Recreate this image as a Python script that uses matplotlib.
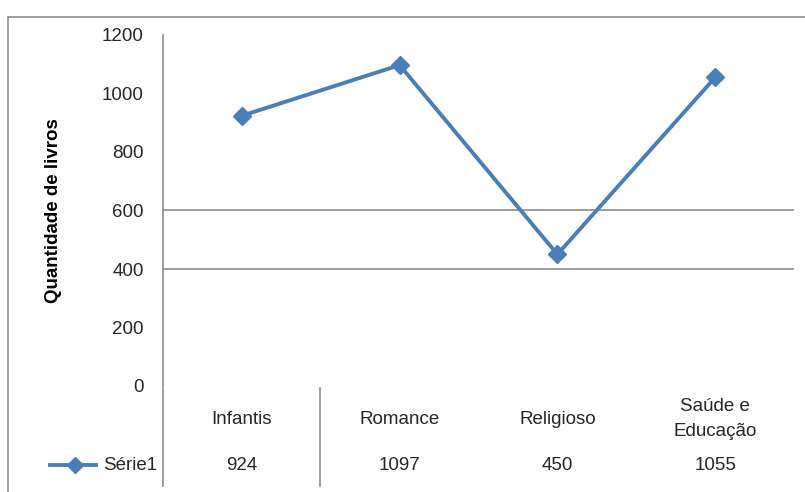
import matplotlib
matplotlib.use("Agg")
import matplotlib.pyplot as plt
import matplotlib.transforms as mtransforms
from matplotlib.patches import Rectangle
from matplotlib.lines import Line2D

categories = ["Infantis", "Romance", "Religioso", "Saúde e\nEducação"]
values = [924, 1097, 450, 1055]
value_labels = ["924", "1097", "450", "1055"]
series_name = "Série1"
yticks = [0, 200, 400, 600, 800, 1000, 1200]
gridlines = [400, 600]
ylabel = "Quantidade de livros"

W, H = 805, 492
plt.rcParams['font.family'] = ['Liberation Sans', 'DejaVu Sans']
fig = plt.figure(figsize=(W / 100, H / 100), dpi=100)

TXT = "#262626"
GRAY = "#8c8c8c"
BLUE = "#4a7ebb"
FS = 13.5

def fx(px):
    return px / W

def fy(py):
    return 1 - py / H

# outer chart border
fig.patches.append(Rectangle((fx(8), fy(520)), fx(840) - fx(8), fy(17) - fy(520),
                             transform=fig.transFigure, fill=False,
                             edgecolor=GRAY, linewidth=1.2))

left, right, top, bottom = 163, 794, 35, 386
ax = fig.add_axes([fx(left), fy(bottom), fx(right) - fx(left), fy(top) - fy(bottom)])
ax.set_xlim(-0.5, len(categories) - 0.5)
ax.set_ylim(0, 1200)
for s in ["top", "right", "bottom"]:
    ax.spines[s].set_visible(False)
ax.spines["left"].set_color(GRAY)
ax.spines["left"].set_linewidth(1.2)
ax.set_yticks(yticks)
ax.set_yticklabels([str(v) for v in yticks], fontsize=FS, color=TXT)
ax.tick_params(axis="y", length=0, pad=14)
ax.set_xticks([])
for g in gridlines:
    ax.axhline(g, color=GRAY, linewidth=1.2, zorder=1)

xs = list(range(len(categories)))
ax.plot(xs, values, color=BLUE, linewidth=2.8, marker="D", markersize=9,
        markerfacecolor=BLUE, markeredgecolor=BLUE, zorder=3, clip_on=False)

fig.text(fx(53), fy(211), ylabel, rotation=90, ha="center", va="center",
         fontsize=FS, fontweight="bold", color="black")

# data table below the plot
btr = mtransforms.blended_transform_factory(ax.transData, fig.transFigure)
for i, c in enumerate(categories):
    ax.text(i, fy(419), c, transform=btr, ha="center", va="center",
            fontsize=FS, color=TXT, linespacing=1.55)
    ax.text(i, fy(466), value_labels[i], transform=btr, ha="center", va="center",
            fontsize=FS, color=TXT)

# legend key in table
fig.lines.append(Line2D([fx(50), fx(96)], [fy(465), fy(465)], transform=fig.transFigure,
                        color=BLUE, linewidth=2.8))
fig.lines.append(Line2D([fx(75)], [fy(465)], transform=fig.transFigure, marker="D",
                        markersize=8, color=BLUE, linestyle="none"))
fig.text(fx(130), fy(466), series_name, ha="center", va="center", fontsize=FS, color=TXT)

# table separators
for xv in [163, 320]:
    fig.lines.append(Line2D([fx(xv), fx(xv)], [fy(388), fy(486)], transform=fig.transFigure,
                            color=GRAY, linewidth=1.2))

fig.savefig("out.png", dpi=100)
